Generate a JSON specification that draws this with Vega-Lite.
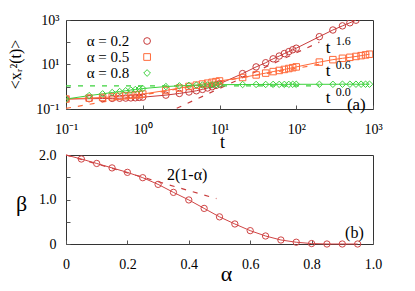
{
  "$schema": "https://vega.github.io/schema/vega-lite/v6.json",
  "padding": {"left": 6, "top": 12, "right": 0, "bottom": 0},
  "bounds": "flush",
  "spacing": 46,
  "config": {
    "font": "Liberation Serif, serif",
    "view": {"stroke": "#333", "strokeWidth": 1},
    "axis": {"domain": false, "grid": false, "tickSize": -4, "tickColor": "#555", "labelFont": "Liberation Serif, serif", "labelFontSize": 14, "labelColor": "#000", "titleFont": "Liberation Serif, serif", "titleFontWeight": "normal", "titleColor": "#000", "labelFlush": false, "labelOverlap": false, "labelBound": false},
    "legend": {"labelFont": "Liberation Serif, serif"},
    "text": {"font": "Liberation Serif, serif"}
  },
  "datasets": {
    "msd": [
      {"t": 0.1, "y": 0.28, "series": "α = 0.2"},
      {"t": 0.2, "y": 0.29, "series": "α = 0.2"},
      {"t": 0.3, "y": 0.295, "series": "α = 0.2"},
      {"t": 0.4, "y": 0.3, "series": "α = 0.2"},
      {"t": 0.5, "y": 0.305, "series": "α = 0.2"},
      {"t": 0.6, "y": 0.31, "series": "α = 0.2"},
      {"t": 0.7, "y": 0.315, "series": "α = 0.2"},
      {"t": 0.8, "y": 0.32, "series": "α = 0.2"},
      {"t": 0.9, "y": 0.33, "series": "α = 0.2"},
      {"t": 1, "y": 0.34, "series": "α = 0.2"},
      {"t": 2, "y": 0.42, "series": "α = 0.2"},
      {"t": 3, "y": 0.5, "series": "α = 0.2"},
      {"t": 4, "y": 0.58, "series": "α = 0.2"},
      {"t": 5, "y": 0.66, "series": "α = 0.2"},
      {"t": 6, "y": 0.76, "series": "α = 0.2"},
      {"t": 7, "y": 0.88, "series": "α = 0.2"},
      {"t": 8, "y": 1.0, "series": "α = 0.2"},
      {"t": 9, "y": 1.15, "series": "α = 0.2"},
      {"t": 10, "y": 1.35, "series": "α = 0.2"},
      {"t": 20, "y": 3.9, "series": "α = 0.2"},
      {"t": 30, "y": 7.8, "series": "α = 0.2"},
      {"t": 40, "y": 12, "series": "α = 0.2"},
      {"t": 50, "y": 18, "series": "α = 0.2"},
      {"t": 60, "y": 24, "series": "α = 0.2"},
      {"t": 70, "y": 31, "series": "α = 0.2"},
      {"t": 80, "y": 38, "series": "α = 0.2"},
      {"t": 90, "y": 46, "series": "α = 0.2"},
      {"t": 100, "y": 54, "series": "α = 0.2"},
      {"t": 200, "y": 178, "series": "α = 0.2"},
      {"t": 300, "y": 355, "series": "α = 0.2"},
      {"t": 400, "y": 545, "series": "α = 0.2"},
      {"t": 500, "y": 750, "series": "α = 0.2"},
      {"t": 600, "y": 980, "series": "α = 0.2"},
      {"t": 0.1, "y": 0.28, "series": "α = 0.5"},
      {"t": 0.2, "y": 0.31, "series": "α = 0.5"},
      {"t": 0.3, "y": 0.33, "series": "α = 0.5"},
      {"t": 0.4, "y": 0.35, "series": "α = 0.5"},
      {"t": 0.5, "y": 0.37, "series": "α = 0.5"},
      {"t": 0.6, "y": 0.39, "series": "α = 0.5"},
      {"t": 0.7, "y": 0.41, "series": "α = 0.5"},
      {"t": 0.8, "y": 0.43, "series": "α = 0.5"},
      {"t": 0.9, "y": 0.45, "series": "α = 0.5"},
      {"t": 1, "y": 0.47, "series": "α = 0.5"},
      {"t": 2, "y": 0.68, "series": "α = 0.5"},
      {"t": 3, "y": 0.87, "series": "α = 0.5"},
      {"t": 4, "y": 1.03, "series": "α = 0.5"},
      {"t": 5, "y": 1.18, "series": "α = 0.5"},
      {"t": 6, "y": 1.32, "series": "α = 0.5"},
      {"t": 7, "y": 1.45, "series": "α = 0.5"},
      {"t": 8, "y": 1.58, "series": "α = 0.5"},
      {"t": 9, "y": 1.7, "series": "α = 0.5"},
      {"t": 10, "y": 1.82, "series": "α = 0.5"},
      {"t": 20, "y": 2.6, "series": "α = 0.5"},
      {"t": 30, "y": 3.4, "series": "α = 0.5"},
      {"t": 40, "y": 4.1, "series": "α = 0.5"},
      {"t": 50, "y": 4.8, "series": "α = 0.5"},
      {"t": 60, "y": 5.4, "series": "α = 0.5"},
      {"t": 70, "y": 6.0, "series": "α = 0.5"},
      {"t": 80, "y": 6.6, "series": "α = 0.5"},
      {"t": 90, "y": 7.2, "series": "α = 0.5"},
      {"t": 100, "y": 7.8, "series": "α = 0.5"},
      {"t": 200, "y": 12.8, "series": "α = 0.5"},
      {"t": 300, "y": 16.5, "series": "α = 0.5"},
      {"t": 400, "y": 19, "series": "α = 0.5"},
      {"t": 500, "y": 21, "series": "α = 0.5"},
      {"t": 600, "y": 23, "series": "α = 0.5"},
      {"t": 700, "y": 25, "series": "α = 0.5"},
      {"t": 800, "y": 27, "series": "α = 0.5"},
      {"t": 900, "y": 29, "series": "α = 0.5"},
      {"t": 0.1, "y": 0.28, "series": "α = 0.8"},
      {"t": 0.2, "y": 0.4, "series": "α = 0.8"},
      {"t": 0.3, "y": 0.48, "series": "α = 0.8"},
      {"t": 0.4, "y": 0.55, "series": "α = 0.8"},
      {"t": 0.5, "y": 0.61, "series": "α = 0.8"},
      {"t": 0.6, "y": 0.66, "series": "α = 0.8"},
      {"t": 0.7, "y": 0.71, "series": "α = 0.8"},
      {"t": 0.8, "y": 0.75, "series": "α = 0.8"},
      {"t": 0.9, "y": 0.79, "series": "α = 0.8"},
      {"t": 1, "y": 0.83, "series": "α = 0.8"},
      {"t": 2, "y": 1.02, "series": "α = 0.8"},
      {"t": 3, "y": 1.1, "series": "α = 0.8"},
      {"t": 4, "y": 1.15, "series": "α = 0.8"},
      {"t": 5, "y": 1.18, "series": "α = 0.8"},
      {"t": 6, "y": 1.2, "series": "α = 0.8"},
      {"t": 7, "y": 1.21, "series": "α = 0.8"},
      {"t": 8, "y": 1.22, "series": "α = 0.8"},
      {"t": 9, "y": 1.23, "series": "α = 0.8"},
      {"t": 10, "y": 1.24, "series": "α = 0.8"},
      {"t": 20, "y": 1.26, "series": "α = 0.8"},
      {"t": 30, "y": 1.27, "series": "α = 0.8"},
      {"t": 40, "y": 1.27, "series": "α = 0.8"},
      {"t": 50, "y": 1.28, "series": "α = 0.8"},
      {"t": 60, "y": 1.28, "series": "α = 0.8"},
      {"t": 70, "y": 1.28, "series": "α = 0.8"},
      {"t": 80, "y": 1.28, "series": "α = 0.8"},
      {"t": 90, "y": 1.29, "series": "α = 0.8"},
      {"t": 100, "y": 1.29, "series": "α = 0.8"},
      {"t": 200, "y": 1.29, "series": "α = 0.8"},
      {"t": 300, "y": 1.29, "series": "α = 0.8"},
      {"t": 400, "y": 1.3, "series": "α = 0.8"},
      {"t": 500, "y": 1.3, "series": "α = 0.8"},
      {"t": 600, "y": 1.3, "series": "α = 0.8"},
      {"t": 700, "y": 1.3, "series": "α = 0.8"},
      {"t": 800, "y": 1.3, "series": "α = 0.8"},
      {"t": 900, "y": 1.3, "series": "α = 0.8"}
    ],
    "guides": [
      {"t": 2, "y": 0.0638, "series": "α = 0.2"},
      {"t": 200, "y": 101, "series": "α = 0.2"},
      {"t": 0.1, "y": 0.107, "series": "α = 0.5"},
      {"t": 200, "y": 10.2, "series": "α = 0.5"},
      {"t": 0.1, "y": 1.1, "series": "α = 0.8"},
      {"t": 200, "y": 1.1, "series": "α = 0.8"}
    ],
    "notesbig": [
      {"note": "t", "t": 243, "y": 32.9},
      {"note": "t", "t": 243, "y": 3.04},
      {"note": "t", "t": 243, "y": 0.186},
      {"note": "(a)", "t": 457, "y": 0.09}
    ],
    "notessup": [
      {"note": "1.6", "t": 328, "y": 75.2},
      {"note": "0.6", "t": 328, "y": 6.28},
      {"note": "0.0", "t": 328, "y": 0.384}
    ],
    "beta": [
      {"alpha": 0, "beta": 2.0},
      {"alpha": 0.05, "beta": 1.91},
      {"alpha": 0.1, "beta": 1.81},
      {"alpha": 0.15, "beta": 1.71},
      {"alpha": 0.2, "beta": 1.61},
      {"alpha": 0.25, "beta": 1.49},
      {"alpha": 0.3, "beta": 1.34},
      {"alpha": 0.35, "beta": 1.16},
      {"alpha": 0.4, "beta": 0.99},
      {"alpha": 0.45, "beta": 0.8},
      {"alpha": 0.5, "beta": 0.61},
      {"alpha": 0.55, "beta": 0.45},
      {"alpha": 0.6, "beta": 0.3},
      {"alpha": 0.65, "beta": 0.18},
      {"alpha": 0.7, "beta": 0.09},
      {"alpha": 0.75, "beta": 0.04},
      {"alpha": 0.8, "beta": 0.01},
      {"alpha": 0.85, "beta": 0.0},
      {"alpha": 0.9, "beta": 0.0},
      {"alpha": 0.95, "beta": 0.0}
    ],
    "betaguide": [
      {"alpha": 0, "beta": 2.0},
      {"alpha": 0.49, "beta": 1.02}
    ],
    "notesb": [
      {"note": "2(1-α)", "alpha": 0.329, "beta": 1.438},
      {"note": "(b)", "alpha": 0.909, "beta": 0.135}
    ]
  },
  "vconcat": [
    {
      "width": 307,
      "height": 89,
      "encoding": {
        "x": {"field": "t", "type": "quantitative", "scale": {"type": "log", "domain": [0.1, 1000], "nice": false},
          "axis": {"values": [0.1, 1, 10, 100, 1000], "labelExpr": "datum.value < 0.5 ? '10⁻¹' : datum.value < 5 ? '10⁰' : datum.value < 50 ? '10¹' : datum.value < 500 ? '10²' : '10³'", "labelBaseline": "alphabetic", "labelPadding": 28, "title": "t", "titleFontSize": 18, "titleX": 156, "titleY": 38, "titleBaseline": "alphabetic", "titleAlign": "center"}},
        "y": {"field": "y", "type": "quantitative", "scale": {"type": "log", "domain": [0.1, 1000], "nice": false},
          "axis": {"values": [0.1, 1, 10, 100, 1000], "labelExpr": "datum.value == 0.1 ? '10⁻¹' : datum.value == 10 ? '10¹' : datum.value == 1000 ? '10³' : ''", "labelPadding": 11, "title": "<xᵣ²(t)>", "titleFontSize": 16, "titleAngle": -90, "titleX": -51, "titleY": 44, "titleAlign": "center", "titleBaseline": "middle"}},
        "color": {"field": "series", "type": "nominal", "scale": {"domain": ["α = 0.2", "α = 0.5", "α = 0.8"], "range": ["#c83c3c", "#ff6a3a", "#3cd23c"]},
          "legend": {"orient": "none", "legendX": 73.6, "legendY": 13.5, "title": null, "padding": 0, "labelFontSize": 15, "labelAlign": "right", "labelOffset": -25.3, "symbolSize": 45, "symbolStrokeWidth": 1, "rowPadding": 0, "labelLimit": 0,
            "encode": {"symbols": {"update": {"fill": {"value": "transparent"}}}}}}
      },
      "layer": [
        {"data": {"name": "guides"}, "mark": {"type": "line", "strokeDash": [5, 7], "strokeWidth": 1.2, "clip": true}, "encoding": {"detail": {"field": "series"}}},
        {"data": {"name": "msd"}, "mark": {"type": "line", "strokeWidth": 1, "clip": true}},
        {"data": {"name": "msd"}, "mark": {"type": "point", "filled": false, "size": 42, "strokeWidth": 1, "opacity": 1, "clip": true},
          "encoding": {
            "shape": {"field": "series", "type": "nominal", "scale": {"domain": ["α = 0.2", "α = 0.5", "α = 0.8"], "range": ["circle", "square", "diamond"]},
              "legend": {"orient": "none", "legendX": 73.6, "legendY": 13.5, "title": null, "padding": 0, "labelFontSize": 15, "labelAlign": "right", "labelOffset": -25.3, "symbolSize": 45, "symbolStrokeWidth": 1, "rowPadding": 0, "labelLimit": 0,
                "encode": {"symbols": {"update": {"fill": {"value": "transparent"}}}}}}
          }},
        {"data": {"name": "notesbig"}, "mark": {"type": "text", "fontSize": 17, "align": "left", "baseline": "alphabetic", "color": "#000"}, "encoding": {"text": {"field": "note", "type": "nominal"}, "color": {"value": "#000"}}},
        {"data": {"name": "notessup"}, "mark": {"type": "text", "fontSize": 12, "align": "left", "baseline": "alphabetic", "color": "#000"}, "encoding": {"text": {"field": "note", "type": "nominal"}, "color": {"value": "#000"}}}
      ]
    },
    {
      "width": 307,
      "height": 89,
      "encoding": {
        "x": {"field": "alpha", "type": "quantitative", "scale": {"domain": [0, 1], "nice": false},
          "axis": {"values": [0, 0.2, 0.4, 0.6, 0.8, 1], "labelExpr": "datum.value == 0 ? '0' : format(datum.value, '.1f')", "labelBaseline": "alphabetic", "labelPadding": 28, "title": "α", "titleFontSize": 22, "titleX": 160, "titleY": 36, "titleBaseline": "alphabetic", "titleAlign": "center"}},
        "y": {"field": "beta", "type": "quantitative", "scale": {"domain": [0, 2], "nice": false},
          "axis": {"values": [0, 0.5, 1, 1.5, 2], "labelExpr": "datum.value == 0 ? '0' : datum.value == 1 ? '1.0' : datum.value == 2 ? '2.0' : ''", "labelPadding": 14, "title": "β", "titleFontSize": 22, "titleAngle": 0, "titleX": -45, "titleY": 48, "titleAlign": "center", "titleBaseline": "middle"}}
      },
      "layer": [
        {"data": {"name": "betaguide"}, "mark": {"type": "line", "strokeDash": [5, 7], "strokeWidth": 1.2, "color": "#c83c3c"}},
        {"data": {"name": "beta"}, "mark": {"type": "line", "strokeWidth": 1, "color": "#d04545"}},
        {"data": {"name": "beta"}, "transform": [{"filter": "datum.alpha > 0"}], "mark": {"type": "point", "filled": false, "size": 40, "strokeWidth": 1, "color": "#d04545", "opacity": 1}},
        {"data": {"name": "notesb"}, "mark": {"type": "text", "fontSize": 16, "align": "left", "baseline": "alphabetic", "color": "#000"}, "encoding": {"text": {"field": "note", "type": "nominal"}}}
      ]
    }
  ]
}
